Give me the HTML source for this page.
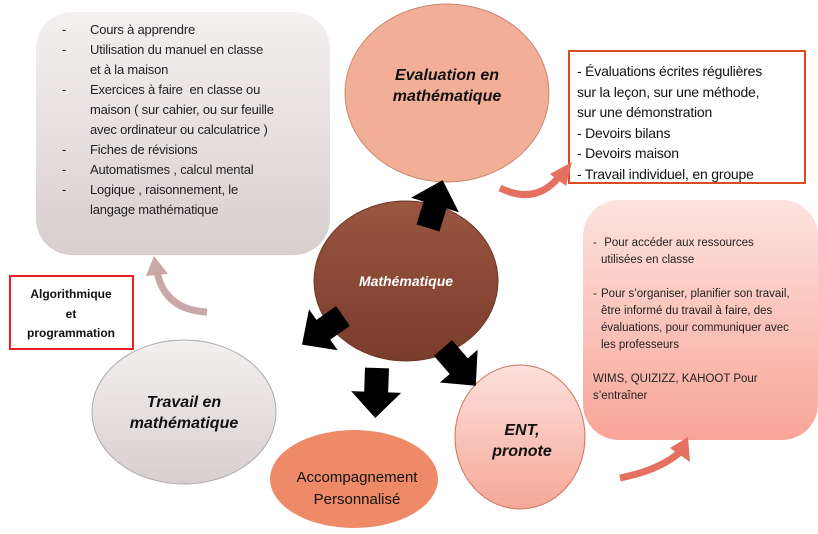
<!DOCTYPE html>
<html><head><meta charset="utf-8"><style>
body{margin:0;width:818px;height:534px;background:#fff;overflow:hidden;position:relative;font-family:"Liberation Sans",sans-serif;}
.abs{position:absolute;}
.li{position:relative;}
.li b{position:absolute;font-weight:normal;}
</style></head><body>
<svg class="abs" style="left:0;top:0" width="818" height="534">
<defs>
<linearGradient id="gg" x1="0" y1="0" x2="0" y2="1"><stop offset="0" stop-color="#f4f0f0"/><stop offset="1" stop-color="#d8cfcf"/></linearGradient>
<linearGradient id="pg" x1="0" y1="0" x2="0" y2="1"><stop offset="0" stop-color="#fde3df"/><stop offset="1" stop-color="#f8a597"/></linearGradient>
<linearGradient id="bg" x1="0" y1="0" x2="0" y2="1"><stop offset="0" stop-color="#9a5640"/><stop offset="1" stop-color="#7a3c2c"/></linearGradient>
<linearGradient id="eg" x1="0" y1="0" x2="0" y2="1"><stop offset="0" stop-color="#fde0dc"/><stop offset="1" stop-color="#f6a898"/></linearGradient>
</defs>
<rect x="36" y="12" width="294" height="243" rx="36" fill="url(#gg)"/>
<rect x="583" y="200" width="235" height="240" rx="36" fill="url(#pg)"/>
<ellipse cx="447" cy="93" rx="102" ry="89" fill="#f2ae96" stroke="#c98870" stroke-width="1"/>
<rect x="569" y="51" width="236" height="132" fill="#fff" stroke="#e04a20" stroke-width="2"/>
<rect x="10" y="276" width="123" height="73" fill="#fff" stroke="#e82020" stroke-width="2"/>
<path d="M500 188 Q535 205 558 178" fill="none" stroke="#e57060" stroke-width="7"/>
<polygon points="550,174 572,162 566,186" fill="#e57060"/>
<path d="M207 312 Q165 310 157 272" fill="none" stroke="#c8a8a8" stroke-width="7"/>
<polygon points="146,276 154,256 168,274" fill="#c8a8a8"/>
<path d="M620 478 Q660 470 680 452" fill="none" stroke="#e57060" stroke-width="7"/>
<polygon points="670,448 688,437 690,462" fill="#e57060"/>
<ellipse cx="406" cy="281" rx="92" ry="80" fill="url(#bg)" stroke="#6e3628"/>
<ellipse cx="184" cy="412" rx="92" ry="72" fill="url(#gg)" stroke="#aaa"/>
<ellipse cx="354" cy="479" rx="84" ry="49" fill="#ee8a68"/>
<ellipse cx="520" cy="437" rx="65" ry="72" fill="url(#eg)" stroke="#d07060"/>
<g fill="#000">
<polygon points="0,-12 24,-12 24,-25 50,0 24,25 24,12 0,12" transform="translate(428,228) rotate(-73)"/>
<polygon points="0,-12 24,-12 24,-25 50,0 24,25 24,12 0,12" transform="translate(343,316) rotate(145)"/>
<polygon points="0,-12 24,-12 24,-25 50,0 24,25 24,12 0,12" transform="translate(377,368) rotate(92)"/>
<polygon points="0,-12 24,-12 24,-25 50,0 24,25 24,12 0,12" transform="translate(443,348) rotate(49)"/>
</g>
<text x="447" y="80" text-anchor="middle" font-size="16" font-style="italic" font-weight="bold" fill="#111">Evaluation en</text>
<text x="447" y="101" text-anchor="middle" font-size="16" font-style="italic" font-weight="bold" fill="#111">mathématique</text>
<text x="406" y="286" text-anchor="middle" font-size="14" font-style="italic" font-weight="bold" fill="#fff">Mathématique</text>
<text x="184" y="407" text-anchor="middle" font-size="16" font-style="italic" font-weight="bold" fill="#111">Travail en</text>
<text x="184" y="428" text-anchor="middle" font-size="16" font-style="italic" font-weight="bold" fill="#111">mathématique</text>
<text x="357" y="482" text-anchor="middle" font-size="15" fill="#111">Accompagnement</text>
<text x="357" y="504" text-anchor="middle" font-size="15" fill="#111">Personnalisé</text>
<text x="522" y="435" text-anchor="middle" font-size="16" font-style="italic" font-weight="bold" fill="#111">ENT,</text>
<text x="522" y="456" text-anchor="middle" font-size="16" font-style="italic" font-weight="bold" fill="#111">pronote</text>
<text x="71" y="298" text-anchor="middle" font-size="12" font-weight="bold" fill="#111">Algorithmique</text>
<text x="71" y="318" text-anchor="middle" font-size="12" font-weight="bold" fill="#111">et</text>
<text x="71" y="337" text-anchor="middle" font-size="12" font-weight="bold" fill="#111">programmation</text>
</svg>
<div class="abs" style="left:90px;top:20px;width:186px;font-size:13px;line-height:20px;color:#222;letter-spacing:-0.2px">
<div class="li"><b style="left:-28px">-</b>Cours à apprendre</div>
<div class="li"><b style="left:-28px">-</b>Utilisation du manuel en classe et à la maison</div>
<div class="li"><b style="left:-28px">-</b>Exercices à faire &nbsp;en classe ou maison ( sur cahier, ou sur feuille avec ordinateur ou calculatrice )</div>
<div class="li"><b style="left:-28px">-</b>Fiches de révisions</div>
<div class="li"><b style="left:-28px">-</b>Automatismes , calcul mental</div>
<div class="li"><b style="left:-28px">-</b>Logique , raisonnement, le langage mathématique</div>
</div>
<div class="abs" style="left:577px;top:61px;font-size:14px;line-height:20.5px;color:#111;width:230px;letter-spacing:-0.2px">
- Évaluations écrites régulières<br>sur la leçon, sur une méthode,<br>sur une démonstration<br>- Devoirs bilans<br>- Devoirs maison<br>- Travail individuel, en groupe</div>
<div class="abs" style="left:601px;top:235px;font-size:11.5px;line-height:17px;color:#222;width:190px;">
<div class="li"><b style="left:-8px">-</b>&nbsp;Pour accéder aux ressources utilisées en classe</div>
<div class="li" style="margin-top:17px"><b style="left:-8px">-</b>Pour s’organiser, planifier son travail, être informé du travail à faire, des évaluations, pour communiquer avec les professeurs</div>
<div style="margin-top:17px;margin-left:-8px;width:180px">WIMS, QUIZIZZ, KAHOOT Pour s’entraîner</div>
</div>
</body></html>
